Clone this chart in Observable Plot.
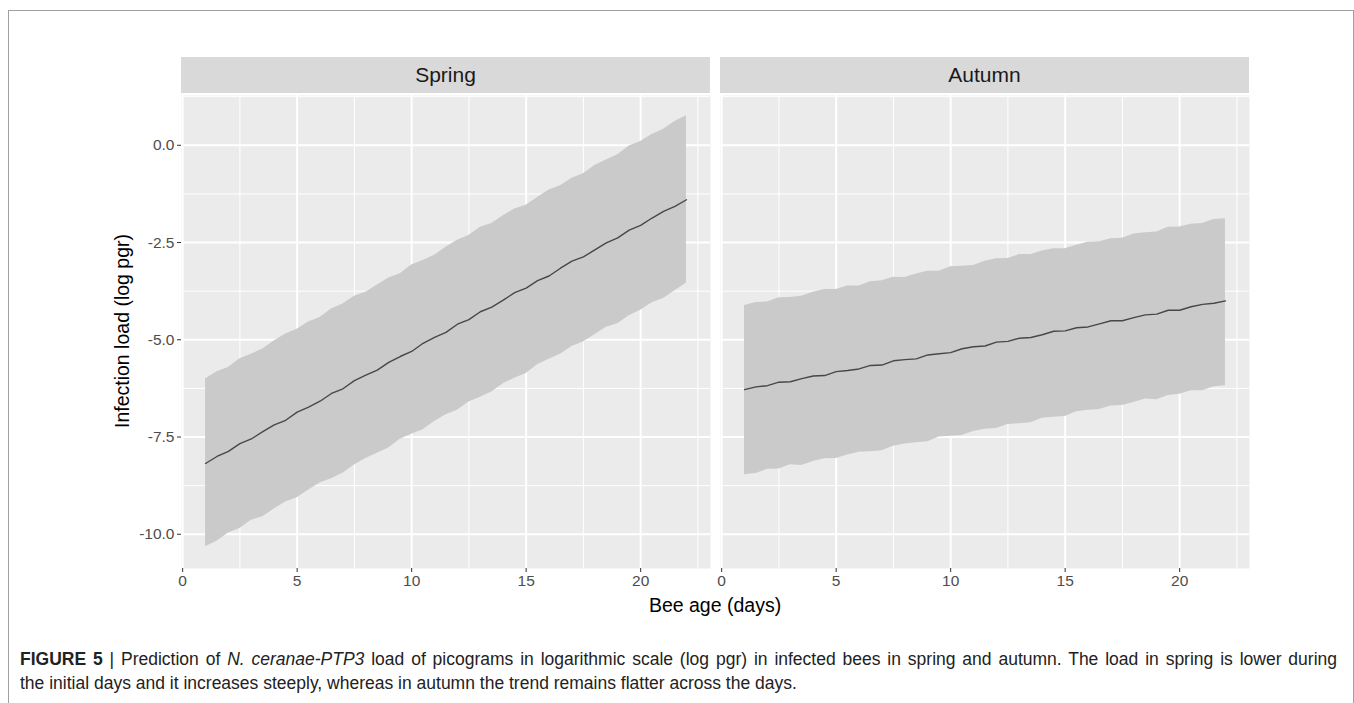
<!DOCTYPE html>
<html><head><meta charset="utf-8">
<script src="https://cdn.jsdelivr.net/npm/d3@7"></script>
<script src="https://cdn.jsdelivr.net/npm/@observablehq/plot@0.6"></script>
<style>
body{margin:0;background:#fff;font-family:"Liberation Sans",Arial,sans-serif;}
#frame{position:absolute;left:8px;top:10px;width:1346px;height:720px;border:1.5px solid #a0a0a0;border-bottom:none;box-sizing:border-box}
#chart{position:absolute;left:0;top:0}
#ylab{position:absolute;left:122px;top:331px;transform:translate(-50%,-50%) rotate(-90deg);font-size:19.5px;color:#000;white-space:nowrap}
#xlab{position:absolute;left:715px;top:605px;transform:translate(-50%,-50%);font-size:19.5px;color:#000;white-space:nowrap}
#caption{position:absolute;left:20px;top:647px;font-size:17.5px;line-height:24px;color:#222;white-space:nowrap}
#cap1{width:1317px;text-align:justify;text-align-last:justify}
</style></head><body>
<div id="frame"></div>
<div id="chart"></div>
<div id="ylab">Infection load (log pgr)</div>
<div id="xlab">Bee age (days)</div>
<div id="caption"><div id="cap1"><b>FIGURE 5</b> | Prediction of <i>N. ceranae-PTP3</i> load of picograms in logarithmic scale (log pgr) in infected bees in spring and autumn. The load in spring is lower during</div><div>the initial days and it increases steeply, whereas in autumn the trend remains flatter across the days.</div></div>
<script>
const seasons = ["Spring", "Autumn"];
const days = [1,1.5,2,2.5,3,3.5,4,4.5,5,5.5,6,6.5,7,7.5,8,8.5,9,9.5,10,10.5,11,11.5,12,12.5,13,13.5,14,14.5,15,15.5,16,16.5,17,17.5,18,18.5,19,19.5,20,20.5,21,21.5,22];
const springFit = [-8.18,-8.00,-7.87,-7.67,-7.55,-7.36,-7.19,-7.07,-6.86,-6.73,-6.58,-6.38,-6.26,-6.05,-5.91,-5.78,-5.58,-5.43,-5.30,-5.09,-4.94,-4.81,-4.60,-4.48,-4.28,-4.16,-3.98,-3.79,-3.67,-3.48,-3.36,-3.16,-2.98,-2.87,-2.69,-2.51,-2.38,-2.18,-2.06,-1.87,-1.70,-1.57,-1.40];
const springUpper = [-6.01,-5.82,-5.71,-5.49,-5.37,-5.24,-5.03,-4.85,-4.73,-4.54,-4.43,-4.21,-4.08,-3.88,-3.78,-3.59,-3.41,-3.30,-3.08,-2.96,-2.83,-2.62,-2.44,-2.32,-2.11,-2.01,-1.81,-1.64,-1.54,-1.34,-1.15,-1.04,-0.85,-0.73,-0.52,-0.38,-0.24,-0.02,0.10,0.28,0.41,0.61,0.76];
const springLower = [-10.32,-10.18,-9.97,-9.85,-9.64,-9.55,-9.35,-9.17,-9.06,-8.86,-8.68,-8.57,-8.43,-8.22,-8.05,-7.92,-7.78,-7.56,-7.43,-7.31,-7.10,-6.93,-6.81,-6.60,-6.48,-6.34,-6.13,-5.99,-5.87,-5.64,-5.50,-5.37,-5.17,-5.06,-4.87,-4.68,-4.59,-4.38,-4.24,-4.05,-3.94,-3.74,-3.54];
const autumnFit = [-6.28,-6.21,-6.18,-6.09,-6.08,-6.00,-5.93,-5.92,-5.82,-5.79,-5.75,-5.66,-5.65,-5.54,-5.51,-5.49,-5.39,-5.36,-5.33,-5.23,-5.18,-5.16,-5.06,-5.04,-4.96,-4.94,-4.87,-4.78,-4.77,-4.69,-4.67,-4.59,-4.51,-4.51,-4.43,-4.36,-4.34,-4.24,-4.24,-4.15,-4.09,-4.06,-4.00];
const autumnUpper = [-4.12,-4.04,-4.03,-3.92,-3.91,-3.88,-3.78,-3.71,-3.71,-3.62,-3.62,-3.51,-3.48,-3.39,-3.40,-3.31,-3.24,-3.24,-3.12,-3.11,-3.09,-2.98,-2.92,-2.91,-2.81,-2.81,-2.72,-2.66,-2.66,-2.57,-2.49,-2.48,-2.40,-2.39,-2.28,-2.25,-2.23,-2.11,-2.10,-2.03,-2.01,-1.91,-1.89];
const autumnLower = [-8.47,-8.44,-8.33,-8.32,-8.21,-8.23,-8.13,-8.06,-8.05,-7.96,-7.89,-7.88,-7.85,-7.74,-7.68,-7.65,-7.62,-7.50,-7.48,-7.46,-7.36,-7.30,-7.28,-7.18,-7.16,-7.13,-7.02,-6.99,-6.97,-6.85,-6.81,-6.79,-6.70,-6.69,-6.61,-6.52,-6.54,-6.43,-6.40,-6.31,-6.31,-6.21,-6.18];
const xTicks = [0, 5, 10, 15, 20];
const xMinor = [2.5, 7.5, 12.5, 17.5, 22.5];
const yTicks = [0, -2.5, -5, -7.5, -10];
const yMinor = [1.25, -1.25, -3.75, -6.25, -8.75];

const series = {
  Spring: {fit: springFit, lower: springLower, upper: springUpper},
  Autumn: {fit: autumnFit, lower: autumnLower, upper: autumnUpper}
};
const rows = [];
for (const s of seasons) {
  days.forEach((d, i) => rows.push({season: s, day: d, fit: series[s].fit[i], lower: series[s].lower[i], upper: series[s].upper[i]}));
}

const W = 1354, H = 620;
const plot = Plot.plot({
  width: W, height: H,
  marginLeft: 181, marginRight: 105, marginTop: 95, marginBottom: 52,
  style: {fontFamily: "'Liberation Sans', Arial, sans-serif", background: "transparent", overflow: "visible"},
  fx: {domain: seasons, axis: null, paddingInner: 0.0186, paddingOuter: 0, round: false},
  x: {domain: [-0.05, 23.05], label: null},
  y: {domain: [-10.88, 1.28], label: null},
  marks: [
    Plot.frame({fill: "#ebebeb", stroke: null}),
    Plot.gridX(xMinor, {stroke: "#ffffff", strokeOpacity: 1, strokeWidth: 1}),
    Plot.gridY(yMinor, {stroke: "#ffffff", strokeOpacity: 1, strokeWidth: 1}),
    Plot.gridX(xTicks, {stroke: "#ffffff", strokeOpacity: 1, strokeWidth: 2}),
    Plot.gridY(yTicks, {stroke: "#ffffff", strokeOpacity: 1, strokeWidth: 2}),
    Plot.areaY(rows, {fx: "season", x: "day", y1: "lower", y2: "upper", fill: "#cacaca", fillOpacity: 1}),
    Plot.lineY(rows, {fx: "season", x: "day", y: "fit", stroke: "#474747", strokeWidth: 1.4}),
    Plot.axisX(xTicks, {anchor: "bottom", tickSize: 4, tickPadding: 2, stroke: "#333333", fill: "#4d4d4d", fontSize: 15.5, tickFormat: d => String(d), label: null}),
    Plot.axisY(yTicks, {anchor: "left", tickSize: 4, tickPadding: 3, stroke: "#333333", fill: "#4d4d4d", fontSize: 15.5, tickFormat: d => d.toFixed(1), label: null})
  ]
});
document.getElementById("chart").appendChild(plot);

// facet strips
const fx = plot.scale("fx");
const svg = d3.select(plot);
for (const s of seasons) {
  const x0 = fx.apply(s);
  svg.append("rect").attr("x", x0).attr("y", 57).attr("width", fx.bandwidth).attr("height", 36).attr("fill", "#d9d9d9");
  svg.append("text").attr("x", x0 + fx.bandwidth / 2).attr("y", 75).attr("dy", "0.35em")
    .attr("text-anchor", "middle").attr("font-size", 21).attr("fill", "#1a1a1a")
    .attr("font-family", "'Liberation Sans', Arial, sans-serif").text(s);
}
</script>
</body></html>
